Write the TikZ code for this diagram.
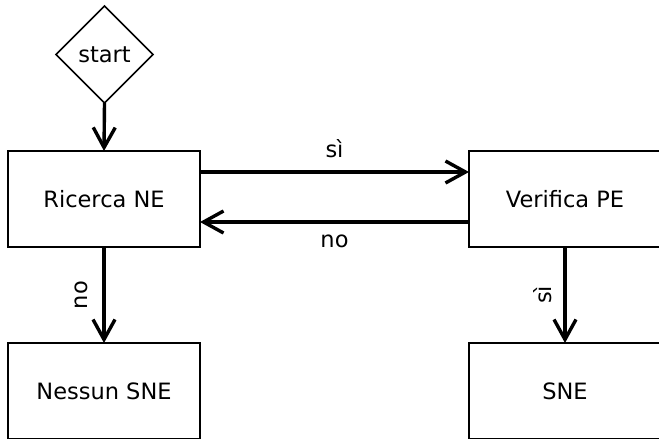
\documentclass[tikz,border=0pt]{standalone}
\usepackage{fontspec}
\setmainfont{DejaVu Sans}
\usetikzlibrary{shapes.geometric,arrows.meta}
\begin{document}
\begin{tikzpicture}[x=1pt,y=-1pt,
  every node/.style={font=\fontsize{22.5}{27}\selectfont, inner sep=0pt, outer sep=0pt},
  stepbox/.style={draw, line width=2.3pt, rectangle, minimum width=192pt, minimum height=96pt},
  startbox/.style={draw, line width=1.5pt, diamond, aspect=1, minimum width=97pt, minimum height=97pt},
  flow/.style={line width=3.4pt, -{Straight Barb[length=20pt,width=22pt]}}]
  \useasboundingbox (0,0) rectangle (659,439);

  \node[startbox] (start) at (104.5,54.5) {start};
  \node[stepbox] (ricerca)  at (104,199) {Ricerca NE};
  \node[stepbox] (verifica) at (565,199) {Verifica PE};
  \node[stepbox] (nessun)   at (104,391) {Nessun SNE};
  \node[stepbox] (sne)      at (565,391) {SNE};

  \draw[flow] (start.south) -- (ricerca.north);
  \draw[flow] ([yshift=27pt]ricerca.east) -- ([yshift=27pt]verifica.west)
    node[midway, above=14pt] {sì};
  \draw[flow] ([yshift=-23pt]verifica.west) -- ([yshift=-23pt]ricerca.east)
    node[midway, below=13pt] {no};
  \draw[flow] (ricerca.south) -- (nessun.north)
    node[midway, rotate=90, anchor=base, yshift=17pt] {no};
  \draw[flow] (verifica.south) -- (sne.north)
    node[midway, rotate=90, anchor=base, yshift=14pt] {sì};
\end{tikzpicture}
\end{document}
